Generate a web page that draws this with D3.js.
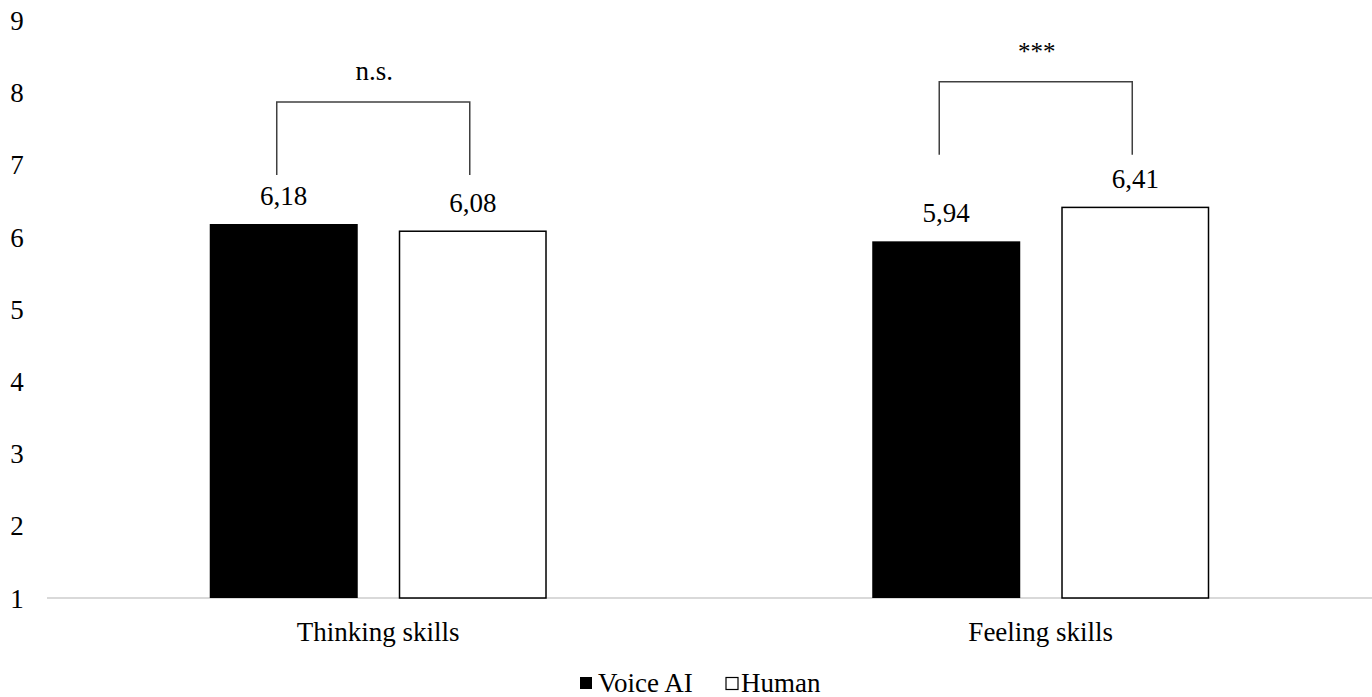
<!DOCTYPE html>
<html><head><meta charset="utf-8">
<script src="https://cdn.jsdelivr.net/npm/d3@7"></script>
<style>body{margin:0;background:#fff}svg{display:block}</style>
</head><body>
<script>
const categories = ["Thinking skills", "Feeling skills"];
const series = ["Voice AI", "Human"];
const voiceAI = [6.18, 5.94];
const human = [6.08, 6.41];
const valueLabels = [["6,18", "6,08"], ["5,94", "6,41"]];
const yTicks = [1, 2, 3, 4, 5, 6, 7, 8, 9];
const sigLabels = ["n.s.", "***"];
const bracketTop = [7.87, 8.15];
const bracketBottom = [6.86, 7.14];

const FS = 27;
const W = 1372, H = 697;
const svg = d3.select("body").append("svg").attr("width", W).attr("height", H);
const x0 = d3.scaleBand().domain(categories).range([47, 1372]);
const x1 = d3.scaleBand().domain(series).range([0, x0.bandwidth()]).paddingInner(0.217).paddingOuter(0.861);
const y = d3.scaleLinear().domain([1, 9]).range([598, 20.4]);

function txt(sel) { return sel.style("font-family", '"Liberation Serif"').attr("fill", "#000"); }

// y tick labels
txt(svg.selectAll(".yt").data(yTicks).enter().append("text"))
  .attr("x", 17).attr("y", d => y(d) + 9.5).attr("text-anchor", "middle")
  .attr("font-size", FS).text(d => d);

// baseline
svg.append("line").attr("x1", 47).attr("x2", 1372).attr("y1", y(1)).attr("y2", y(1))
  .attr("stroke", "#d9d9d9").attr("stroke-width", 2);

const data = categories.map((c, i) => ({c, vals: [voiceAI[i], human[i]], labels: valueLabels[i], i}));
const g = svg.selectAll(".cat").data(data).enter().append("g")
  .attr("transform", d => `translate(${x0(d.c)},0)`);

g.selectAll("rect").data(d => d.vals.map((v, k) => ({v, s: series[k], k}))).enter().append("rect")
  .attr("x", d => x1(d.s) + (d.k === 1 ? 0.75 : 0))
  .attr("width", d => x1.bandwidth() - (d.k === 1 ? 1.5 : 0))
  .attr("y", d => y(d.v))
  .attr("height", d => y(1) - y(d.v))
  .attr("fill", d => d.k === 0 ? "#000" : "#fff")
  .attr("stroke", d => d.k === 0 ? "none" : "#000")
  .attr("stroke-width", 1.5);

txt(g.selectAll(".vl").data(d => d.vals.map((v, k) => ({v, s: series[k], t: d.labels[k]}))).enter().append("text"))
  .attr("x", d => x1(d.s) + x1.bandwidth() / 2).attr("y", d => y(d.v) - 19)
  .attr("text-anchor", "middle").attr("font-size", FS).text(d => d.t);

// brackets
g.append("path")
  .attr("d", d => {
    const xl = x1(series[0]) + x1.bandwidth() / 2 - 7;
    const xr = x1(series[1]) + x1.bandwidth() / 2 - 3;
    return `M${xl},${y(bracketBottom[d.i])}V${y(bracketTop[d.i])}H${xr}V${y(bracketBottom[d.i])}`;
  })
  .attr("fill", "none").attr("stroke", "#404040").attr("stroke-width", 1.5);

txt(g.append("text"))
  .attr("x", d => (x1(series[0]) + x1(series[1]) + x1.bandwidth()) / 2 - 4)
  .attr("y", d => y(bracketTop[d.i]) - 22)
  .attr("text-anchor", "middle").attr("font-size", d => d.i === 0 ? FS : 25)
  .text(d => sigLabels[d.i]);

// category labels
txt(svg.selectAll(".cl").data(categories).enter().append("text"))
  .attr("x", d => x0(d) + x0.bandwidth() / 2).attr("y", 641)
  .attr("text-anchor", "middle").attr("font-size", FS).text(d => d);

// legend
const lg = svg.append("g");
lg.append("rect").attr("x", 580).attr("y", 677).attr("width", 12).attr("height", 12).attr("fill", "#000");
txt(lg.append("text")).attr("x", 598).attr("y", 692).attr("font-size", FS).text(series[0]);
lg.append("rect").attr("x", 726).attr("y", 677.5).attr("width", 12).attr("height", 12)
  .attr("fill", "#fff").attr("stroke", "#000").attr("stroke-width", 1.2);
txt(lg.append("text")).attr("x", 741).attr("y", 692).attr("font-size", FS).text(series[1]);
</script>
</body></html>
